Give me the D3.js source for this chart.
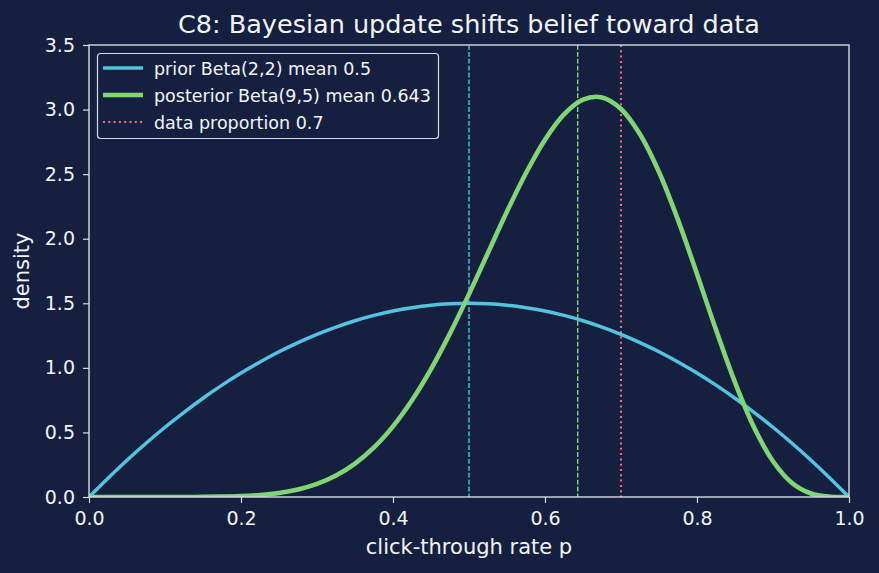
<!DOCTYPE html>
<html>
<head>
<meta charset="utf-8">
<script src="https://cdn.jsdelivr.net/npm/d3@7"></script>
<style>
html,body{margin:0;padding:0;background:#152041;}
svg{display:block;}
text{font-family:"DejaVu Sans",sans-serif;fill:#f2f4f8;}
</style>
</head>
<body>
<svg id="chart" width="879" height="573"></svg>
<script>
// ---- data ----
const pGrid = [0,0.025,0.05,0.075,0.1,0.125,0.15,0.175,0.2,0.225,0.25,0.275,0.3,0.325,0.35,0.375,0.4,0.425,0.45,0.475,0.5,
  0.525,0.55,0.575,0.6,0.625,0.65,0.675,0.7,0.725,0.75,0.775,0.8,0.825,0.85,0.875,0.9,0.925,0.95,0.975,1];
const priorDensity = [0,0.146,0.285,0.416,0.54,0.656,0.765,0.866,0.96,1.046,1.125,1.196,1.26,1.316,1.365,1.406,1.44,1.466,1.485,1.496,1.5,
  1.496,1.485,1.466,1.44,1.406,1.365,1.316,1.26,1.196,1.125,1.046,0.96,0.866,0.765,0.656,0.54,0.416,0.285,0.146,0];
const posteriorDensity = [0,0,0,0,0,0.0002,0.0009,0.0026,0.0068,0.0153,0.031,0.058,0.101,0.166,0.259,0.384,0.547,0.749,0.990,1.267,1.571,
  1.891,2.210,2.509,2.767,2.963,3.077,3.094,3.005,2.809,2.517,2.146,1.727,1.295,0.888,0.540,0.277,0.109,0.027,0.002,0];
const priorMean = 0.5;
const posteriorMean = 0.643;
const dataProportion = 0.7;
const xTicks = [0,0.2,0.4,0.6,0.8,1.0];
const yTicks = [0,0.5,1.0,1.5,2.0,2.5,3.0,3.5];
const legendLabels = ["prior Beta(2,2) mean 0.5","posterior Beta(9,5) mean 0.643","data proportion 0.7"];
const titleText = "C8: Bayesian update shifts belief toward data";
const xLabel = "click-through rate p";
const yLabel = "density";

// ---- styles ----
const C = {prior:"#53c3de", post:"#80d672", data:"#e8707f", axis:"#d6dbe6", bg:"#152041"};
const m = {l:89, r:849, t:45, b:497};

const svg = d3.select("#chart");
svg.append("rect").attr("width",879).attr("height",573).attr("fill",C.bg);

const x = d3.scaleLinear().domain([0,1]).range([m.l,m.r]);
const y = d3.scaleLinear().domain([0,3.5]).range([m.b,m.t]);

const plot = svg.append("g");
plot.append("defs").append("clipPath").attr("id","clip")
  .append("rect").attr("x",m.l).attr("y",m.t).attr("width",m.r-m.l).attr("height",m.b-m.t);
const g = plot.append("g").attr("clip-path","url(#clip)");

// vertical reference lines
g.append("line").attr("x1",x(priorMean)).attr("x2",x(priorMean)).attr("y1",m.t).attr("y2",m.b)
  .attr("stroke",C.prior).attr("stroke-width",1.4).attr("stroke-dasharray","4.8,2.1");
g.append("line").attr("x1",x(posteriorMean)).attr("x2",x(posteriorMean)).attr("y1",m.t).attr("y2",m.b)
  .attr("stroke",C.post).attr("stroke-width",1.4).attr("stroke-dasharray","4.8,2.1");
g.append("line").attr("x1",x(dataProportion)).attr("x2",x(dataProportion)).attr("y1",m.t).attr("y2",m.b)
  .attr("stroke",C.data).attr("stroke-width",2).attr("stroke-dasharray","2,3.3");

const line = (vals) => d3.line().x((d,i)=>x(pGrid[i])).y(d=>y(Math.max(0,d))).curve(d3.curveCatmullRom.alpha(0.5))(vals);
g.append("path").attr("d",line(priorDensity)).attr("fill","none").attr("stroke",C.prior).attr("stroke-width",3.5);
g.append("path").attr("d",line(posteriorDensity)).attr("fill","none").attr("stroke",C.post).attr("stroke-width",4.6);

// axes
const xAxis = svg.append("g").attr("transform",`translate(0,${m.b})`)
  .call(d3.axisBottom(x).tickValues(xTicks).tickFormat(d3.format(".1f")).tickSize(6).tickPadding(9));
const yAxis = svg.append("g").attr("transform",`translate(${m.l},0)`)
  .call(d3.axisLeft(y).tickValues(yTicks).tickFormat(d3.format(".1f")).tickSize(6).tickPadding(8));
[xAxis,yAxis].forEach(a=>{
  a.select(".domain").remove();
  a.selectAll(".tick line").attr("stroke",C.axis).attr("stroke-width",1.2);
  a.selectAll(".tick text").attr("fill","#f2f4f8").style("font-family","DejaVu Sans").style("font-size","19px");
});
// frame
svg.append("rect").attr("x",m.l).attr("y",m.t).attr("width",m.r-m.l).attr("height",m.b-m.t)
  .attr("fill","none").attr("stroke",C.axis).attr("stroke-width",1.4);

// labels
svg.append("text").attr("x",(m.l+m.r)/2).attr("y",33).attr("text-anchor","middle")
  .style("font-size","25.5px").text(titleText);
svg.append("text").attr("x",(m.l+m.r)/2).attr("y",554).attr("text-anchor","middle")
  .style("font-size","21px").text(xLabel);
svg.append("text").attr("transform",`translate(29,${(m.t+m.b)/2}) rotate(-90)`).attr("text-anchor","middle")
  .style("font-size","21px").text(yLabel);

// legend
const lg = svg.append("g");
lg.append("rect").attr("x",97.5).attr("y",53.5).attr("width",341).attr("height",85).attr("rx",3)
  .attr("fill",C.bg).attr("fill-opacity",0.8).attr("stroke",C.axis).attr("stroke-width",1.2);
const items = [
  {c:C.prior,w:3.5,dash:null},
  {c:C.post,w:4.6,dash:null},
  {c:C.data,w:2,dash:"2,3.3"}
];
items.forEach((it,i)=>{
  const yy = 68 + i*27;
  const l = lg.append("line").attr("x1",103).attr("x2",143).attr("y1",yy).attr("y2",yy)
    .attr("stroke",it.c).attr("stroke-width",it.w);
  if(it.dash) l.attr("stroke-dasharray",it.dash);
  lg.append("text").attr("x",154).attr("y",yy+7).style("font-size","17.5px").text(legendLabels[i]);
});
</script>
</body>
</html>
